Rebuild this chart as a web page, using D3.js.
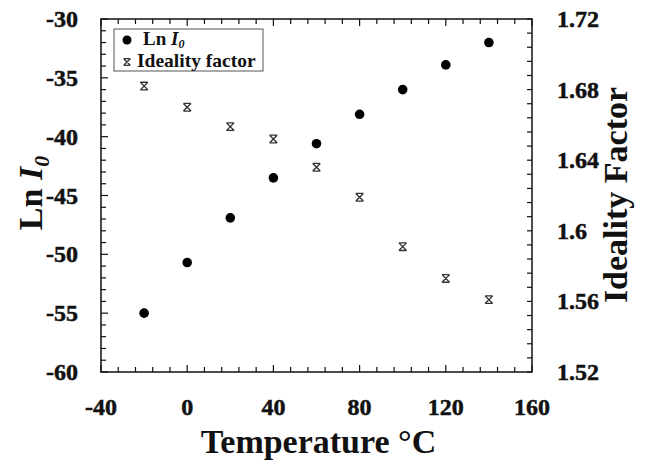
<!DOCTYPE html>
<html>
<head>
<meta charset="utf-8">
<script src="https://cdn.jsdelivr.net/npm/d3@7"></script>
<style>
  body { margin: 0; background: #fff; }
  svg { display: block; font-family: 'Liberation Serif', 'Times New Roman', serif; }
  svg text { font-weight: bold; fill: #111; }
  .tick-label { stroke: #111; stroke-width: 0.5; }
</style>
</head>
<body>
<div id="chart"></div>
<script>
// temperature (°C), ln I0 and ideality factor
const temps = [-20, 0, 20, 40, 60, 80, 100, 120, 140];
const lnI0 = [-55.0, -50.7, -46.9, -43.5, -40.6, -38.1, -36.0, -33.9, -32.0];
const ideality = [1.682, 1.670, 1.659, 1.652, 1.636, 1.619, 1.591, 1.573, 1.561];
const xTicks = [-40, 0, 40, 80, 120, 160];
const yLeftTicks = [-60, -55, -50, -45, -40, -35, -30];
const yRightTicks = [1.52, 1.56, 1.6, 1.64, 1.68, 1.72];

const width = 646, height = 462;
const m = { top: 19, right: 114, bottom: 90, left: 101 };
const iw = width - m.left - m.right;
const ih = height - m.top - m.bottom;

const svg = d3.select('#chart').append('svg')
  .attr('width', width).attr('height', height);
const g = svg.append('g').attr('transform', `translate(${m.left},${m.top})`);

const x = d3.scaleLinear().domain([-40, 160]).range([0, iw]);
const yL = d3.scaleLinear().domain([-60, -30]).range([ih, 0]);
const yR = d3.scaleLinear().domain([1.52, 1.72]).range([ih, 0]);

// minor ticks (inward), majors a bit longer
const minorX = d3.range(-40, 160.1, 8);
const minorYL = d3.range(-60, -29.9, 1);
const minorYR = d3.range(0, 26).map(i => 1.52 + i * 0.008);
const tk = g.append('g').attr('stroke', '#111').attr('stroke-width', 1.2);
minorX.forEach(v => {
  const len = xTicks.includes(v) ? 7 : 5;
  tk.append('line').attr('x1', x(v)).attr('x2', x(v)).attr('y1', ih).attr('y2', ih - len);
  tk.append('line').attr('x1', x(v)).attr('x2', x(v)).attr('y1', 0).attr('y2', len);
});
minorYL.forEach(v => {
  const len = yLeftTicks.includes(v) ? 7 : 5;
  tk.append('line').attr('x1', 0).attr('x2', len).attr('y1', yL(v)).attr('y2', yL(v));
});
minorYR.forEach(v => {
  tk.append('line').attr('x1', iw).attr('x2', iw - 5).attr('y1', yR(v)).attr('y2', yR(v));
});

g.append('rect').attr('width', iw).attr('height', ih)
  .attr('fill', 'none').attr('stroke', '#111').attr('stroke-width', 1.5);

// tick labels
g.selectAll('text.xt').data(xTicks).join('text')
  .attr('class', 'tick-label')
  .attr('x', d => x(d)).attr('y', ih + 43)
  .attr('text-anchor', 'middle').attr('font-size', 24).text(d => d);
g.selectAll('text.ylt').data(yLeftTicks).join('text')
  .attr('class', 'tick-label')
  .attr('x', -23).attr('y', d => yL(d) + 8)
  .attr('text-anchor', 'end').attr('font-size', 24).text(d => d);
g.selectAll('text.yrt').data(yRightTicks).join('text')
  .attr('class', 'tick-label')
  .attr('x', iw + 25).attr('y', d => yR(d) + 8)
  .attr('text-anchor', 'start').attr('font-size', 24).text(d => +d.toFixed(2));

// titles
svg.append('text').attr('x', m.left + iw / 2 + 2).attr('y', 453)
  .attr('text-anchor', 'middle').attr('font-size', 34).text('Temperature °C');
const lt = svg.append('text').attr('transform', 'translate(42,193) rotate(-90)')
  .attr('text-anchor', 'middle').attr('font-size', 34);
lt.append('tspan').text('Ln ');
lt.append('tspan').attr('font-style', 'italic').text('I');
lt.append('tspan').attr('font-style', 'italic').attr('font-size', 22).attr('dy', 7).text('0');
svg.append('text').attr('transform', 'translate(627,195) rotate(-90)')
  .attr('text-anchor', 'middle').attr('font-size', 34).text('Ideality Factor');

// markers
const star = (sel, cx, cy, s) => {
  const p = `M${cx - s},${cy - s}L${cx + s},${cy + s}M${cx - s},${cy + s}L${cx + s},${cy - s}` +
    `M${cx - s},${cy - s}L${cx + s},${cy - s}M${cx - s},${cy + s}L${cx + s},${cy + s}`;
  sel.append('path').attr('d', p).attr('stroke', '#333').attr('stroke-width', 1.3).attr('fill', 'none');
};
const pts = g.append('g');
temps.forEach((t, i) => {
  pts.append('circle').attr('cx', x(t)).attr('cy', yL(lnI0[i])).attr('r', 4.8).attr('fill', '#000');
  star(pts, x(t), yR(ideality[i]), 3.8);
});

// legend
const lg = svg.append('g');
lg.append('rect').attr('x', 114).attr('y', 29).attr('width', 149).attr('height', 42)
  .attr('fill', '#fff').attr('stroke', '#555').attr('stroke-width', 1);
lg.append('circle').attr('cx', 127).attr('cy', 40).attr('r', 4.5).attr('fill', '#000');
const l1 = lg.append('text').attr('x', 143).attr('y', 45).attr('font-size', 19);
l1.append('tspan').text('Ln ');
l1.append('tspan').attr('font-style', 'italic').text('I');
l1.append('tspan').attr('font-style', 'italic').attr('font-size', 12).attr('dy', 3).text('0');
star(lg, 127, 62, 3.3);
lg.append('text').attr('x', 137).attr('y', 67).attr('font-size', 19.5).text('Ideality factor');
</script>
</body>
</html>
